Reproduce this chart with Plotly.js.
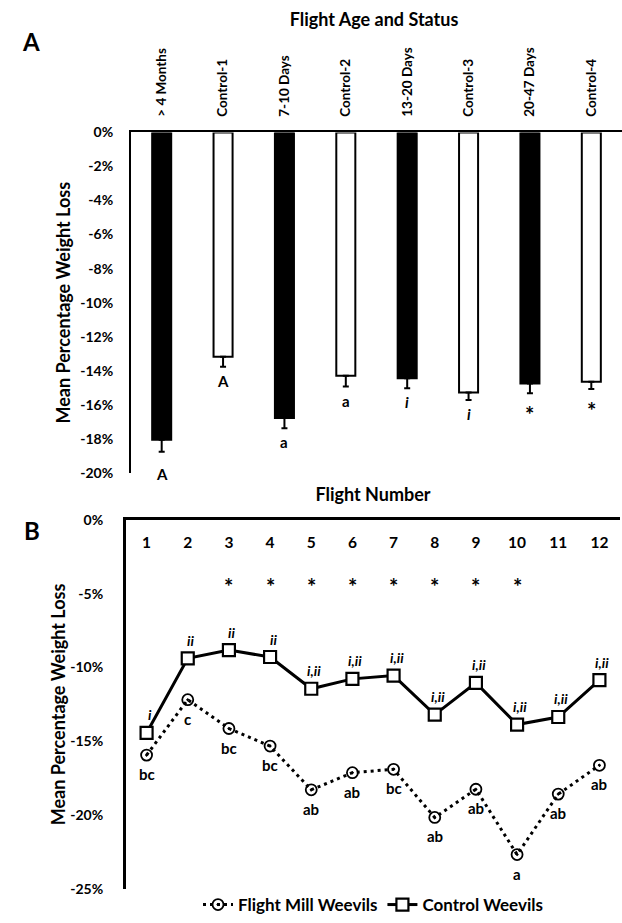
<!DOCTYPE html>
<html>
<head>
<meta charset="utf-8">
<script src="https://cdn.plot.ly/plotly-3.0.1.min.js"></script>
<style>
html,body{margin:0;padding:0;background:#fff;}
#chart{width:622px;height:923px;}
</style>
</head>
<body>
<div id="chart"></div>
<script>
// ---- Panel A data ----
const catsA = ['> 4 Months','Control-1','7-10 Days','Control-2','13-20 Days','Control-3','20-47 Days','Control-4'];
const lossA = [-18.05,-13.18,-16.78,-14.29,-14.44,-15.28,-14.74,-14.64];
const errA = [0.70,0.58,0.59,0.64,0.59,0.43,0.58,0.43];
const isFlownA = [true,false,true,false,true,false,true,false];
const lettersA = ['A','A','a','a','<i>i</i>','<i>i</i>','*','*'];
const tickValsA = [0,-2,-4,-6,-8,-10,-12,-14,-16,-18,-20];
const tickTextA = ['0%','-2%','-4%','-6%','-8%','-10%','-12%','-14%','-16%','-18%','-20%'];

// ---- Panel B data ----
const flights = [1,2,3,4,5,6,7,8,9,10,11,12];
const flightMill = [-15.93,-12.18,-14.13,-15.32,-18.28,-17.12,-16.89,-20.15,-18.24,-22.66,-18.57,-16.62];
const control = [-14.43,-9.38,-8.82,-9.29,-11.44,-10.77,-10.55,-13.19,-11.04,-13.86,-13.35,-10.86];
const millLetters = ['bc','c','bc','bc','ab','ab','bc','ab','ab','a','ab','ab'];
const controlLetters = ['i','ii','ii','ii','i,ii','i,ii','i,ii','i,ii','i,ii','i,ii','i,ii','i,ii'];
const sigFlights = [3,4,5,6,7,8,9,10];
const tickValsB = [0,-5,-10,-15,-20,-25];
const tickTextB = ['0%','-5%','-10%','-15%','-20%','-25%'];

const FONT = 'Lato, "Open Sans", "DejaVu Sans", sans-serif';

const traces = [
  {
    type:'bar', x: catsA, y: lossA, xaxis:'x', yaxis:'y', width:0.31,
    marker:{color: isFlownA.map(f => f ? '#000' : '#fff'), line:{color:'#000', width:2}},
    error_y:{type:'data', symmetric:false, array: errA.map(()=>0), arrayminus: errA, color:'#000', thickness:2, width:3},
    showlegend:false, hoverinfo:'skip'
  },
  {
    type:'scatter', mode:'lines+markers', name:'Flight Mill Weevils',
    x: flights, y: flightMill, xaxis:'x3', yaxis:'y2',
    line:{color:'#000', width:3, dash:'3px,4px'},
    marker:{symbol:'circle-open-dot', size:11, color:'#000', line:{width:1.8, color:'#000'}}
  },
  {
    type:'scatter', mode:'lines+markers', name:'Control Weevils',
    x: flights, y: control, xaxis:'x2', yaxis:'y2',
    line:{color:'#000', width:3},
    marker:{symbol:'square', size:12, color:'#fff', line:{width:2.2, color:'#000'}}
  }
];

const annotations = [];
// panel letters
annotations.push({xref:'paper', yref:'paper', x:20/622, y:1-25/923, text:'<b>A</b>', showarrow:false, font:{family:FONT, size:24, color:'#000'}});
annotations.push({xref:'paper', yref:'paper', x:22/622, y:1-533/923, text:'<b>B</b>', showarrow:false, font:{family:FONT, size:24, color:'#000'}});
// Panel A letters
catsA.forEach((c,i) => {
  const star = lettersA[i]==='*';
  annotations.push({xref:'x', yref:'y', x:c, y: lossA[i]-errA[i], yanchor:'middle', yshift: i===0 ? -22 : (star ? -21 : -14),
    text:'<b>'+lettersA[i]+'</b>', showarrow:false, font:{family:FONT, size: star ? 22 : 15, color:'#000'}});
});
// Panel B letters
flights.forEach((f,i) => {
  annotations.push({xref:'x2', yref:'y2', x:f, y: control[i], yanchor:'middle', yshift:18, xshift:3,
    text:'<b><i>'+controlLetters[i]+'</i></b>', showarrow:false, font:{family:FONT, size:14, color:'#000'}});
  annotations.push({xref:'x2', yref:'y2', x:f, y: flightMill[i], yanchor:'middle', yshift:-19,
    text:'<b>'+millLetters[i]+'</b>', showarrow:false, font:{family:FONT, size:15, color:'#000'}});
});
sigFlights.forEach(f => {
  annotations.push({xref:'x2', yref:'y2', x:f, y:-3.9, yanchor:'middle', yshift:-9,
    text:'<b>*</b>', showarrow:false, font:{family:FONT, size:22, color:'#000'}});
});

const layout = {
  width:622, height:923,
  margin:{l:0, r:0, t:0, b:0},
  paper_bgcolor:'#fff', plot_bgcolor:'#fff',
  font:{family:FONT, color:'#000'},
  showlegend:true,
  legend:{orientation:'h', x:198/622, xanchor:'left', y:1-909/923, yanchor:'middle',
          font:{family:FONT, size:17, color:'#000', weight:'bold'}, bgcolor:'rgba(0,0,0,0)', itemwidth:30},
  title:{text:'<b>Flight Age and Status</b>', x:374/622, xanchor:'center', xref:'paper', y:1-20/923, yanchor:'middle', yref:'container',
         font:{family:FONT, size:18, color:'#000'}},
  xaxis:{domain:[131/622, 1], range:[-0.5,7.5], type:'category', side:'top', anchor:'y',
         showline:true, linecolor:'#000', linewidth:2, ticks:'', tickangle:-90, ticklabelstandoff:11,
         tickfont:{family:FONT, size:13.5, color:'#000', weight:'bold'}, showgrid:false, zeroline:false, fixedrange:true},
  yaxis:{domain:[1-475/923, 1-133/923], range:[-20,0], anchor:'x',
         showline:true, linecolor:'#000', linewidth:2, ticks:'', tickvals:tickValsA, ticktext:tickTextA, ticklabelstandoff:13,
         tickfont:{family:FONT, size:14, color:'#000', weight:'bold'}, showgrid:false, zeroline:false,
         title:{text:'<b>Mean Percentage Weight Loss</b>', font:{family:FONT, size:18, color:'#000'}, standoff:5}},
  xaxis2:{domain:[126/622, 620/622], range:[0.5,12.5], side:'top', anchor:'y2',
          showline:true, linecolor:'#000', linewidth:3, ticks:'', showticklabels:false,
          showgrid:false, zeroline:false,
          title:{text:'<b>Flight Number</b>', font:{family:FONT, size:18, color:'#000'}, standoff:11}},
  xaxis3:{overlaying:'x2', range:[0.5,12.5], side:'top', anchor:'free', position:1-553/923,
          showline:false, ticks:'', tickvals:flights,
          tickfont:{family:FONT, size:15.5, color:'#000', weight:'bold'}, showgrid:false, zeroline:false},
  yaxis2:{domain:[1-893/923, 1-522/923], range:[-25,0], anchor:'x2',
          showline:true, linecolor:'#000', linewidth:3, ticks:'', tickvals:tickValsB, ticktext:tickTextB, ticklabelstandoff:17,
          tickfont:{family:FONT, size:14, color:'#000', weight:'bold'}, showgrid:false, zeroline:false,
          title:{text:'<b>Mean Percentage Weight Loss</b>', font:{family:FONT, size:18, color:'#000'}, standoff:0}},
  annotations: annotations
};

Plotly.newPlot('chart', traces, layout, {displayModeBar:false, staticPlot:true});
</script>
</body>
</html>
